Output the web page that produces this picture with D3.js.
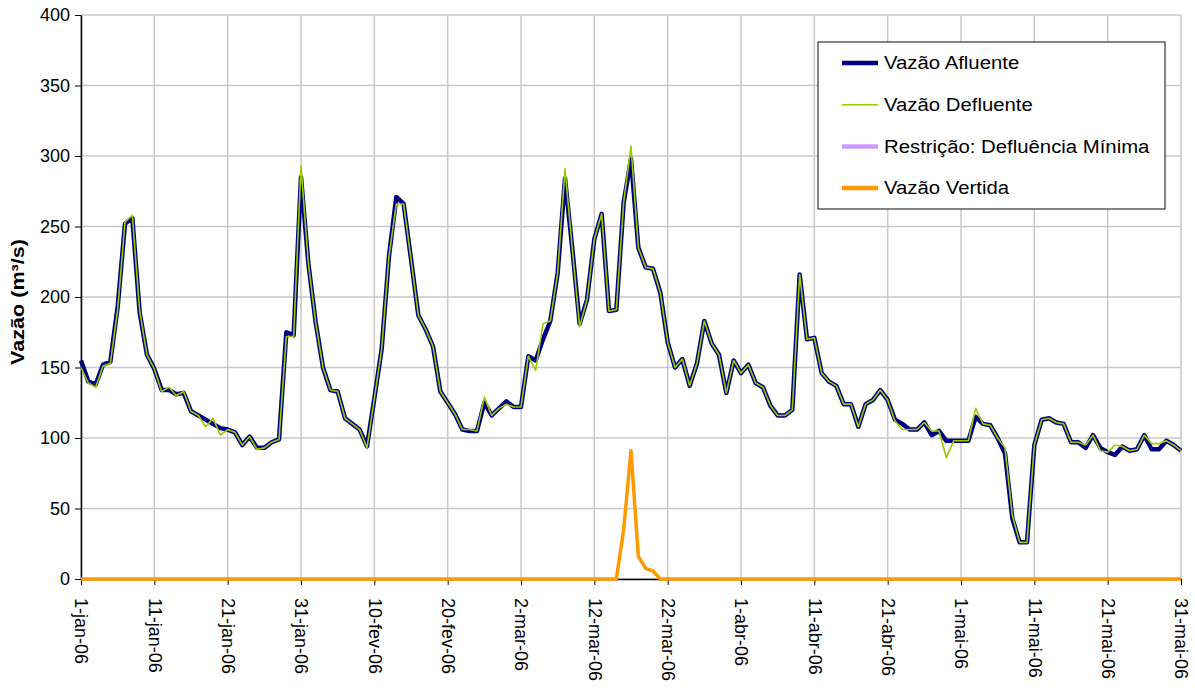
<!DOCTYPE html>
<html>
<head>
<meta charset="utf-8">
<script src="https://cdn.jsdelivr.net/npm/d3@7"></script>
<style>
  body { margin: 0; background: #fff; }
  text { font-family: "Liberation Sans", Arial, sans-serif; }
</style>
</head>
<body>
<div id="chart"></div>
<script>
var margin = {top: 15, right: 14, bottom: 109, left: 81},
    width = 1195 - margin.left - margin.right,
    height = 688 - margin.top - margin.bottom;

// daily values, 1-jan-06 .. 31-mai-06
var afluente = [
  155, 140, 138, 152, 154, 193, 252, 256, 189, 159,
  149, 134, 134, 131, 132, 119, 116, 113, 110, 107,
  106, 104, 95, 101, 93, 93, 97, 99, 175, 173,
  285, 224, 182, 150, 134, 133, 114, 110, 106, 94,
  128, 163, 229, 271, 266, 227, 187, 177, 165, 133,
  125, 117, 106, 105, 105, 125, 116, 121, 126, 122,
  122, 158, 155, 170, 183, 217, 284, 234, 181, 198,
  241, 259, 190, 191, 267, 298, 235, 221, 220, 203,
  168, 150, 156, 137, 153, 183, 167, 159, 132, 155,
  146, 152, 139, 136, 123, 116, 116, 120, 216, 170,
  171, 146, 140, 137, 124, 124, 108, 124, 127, 134,
  127, 113, 110, 106, 106, 111, 102, 105, 98, 98,
  98, 98, 115, 110, 109, 100, 89, 43, 26, 26,
  95, 113, 114, 111, 110, 97, 97, 93, 102, 93,
  90, 88, 94, 91, 92, 102, 92, 92, 98, 95,
  91
];

var defluente = [
  150, 139, 136, 151, 153, 191, 253, 258, 190, 159,
  149, 133, 136, 130, 133, 119, 116, 108, 114, 102,
  106, 104, 95, 101, 92, 93, 97, 99, 172, 172,
  293, 224, 182, 150, 134, 133, 114, 110, 106, 93,
  128, 163, 229, 266, 266, 227, 187, 177, 165, 133,
  125, 117, 106, 106, 105, 129, 116, 121, 124, 122,
  122, 158, 148, 181, 183, 217, 291, 234, 179, 198,
  241, 259, 190, 191, 267, 307, 235, 221, 220, 203,
  168, 150, 156, 137, 153, 183, 167, 159, 132, 155,
  146, 152, 139, 136, 123, 116, 116, 120, 216, 170,
  171, 146, 140, 137, 124, 124, 108, 124, 127, 134,
  127, 112, 106, 106, 106, 111, 105, 105, 86, 98,
  98, 98, 121, 110, 109, 100, 93, 45, 26, 26,
  95, 113, 114, 111, 110, 97, 97, 95, 102, 91,
  90, 95, 94, 91, 92, 102, 96, 96, 98, 95,
  91
];

// restriction series has no values plotted in the period
var minima = [];

var vertida = d3.range(151).map(function(){ return 0; });
var vertidaPico = [[74, 35], [75, 91], [76, 16], [77, 7.5], [78, 5.7]];
vertidaPico.forEach(function(p){ vertida[p[0]] = p[1]; });

var meses = ["jan", "fev", "mar", "abr", "mai"];
var yTicks = [0, 50, 100, 150, 200, 250, 300, 350, 400];

var start = new Date(Date.UTC(2006, 0, 1)),
    end = new Date(Date.UTC(2006, 4, 31));
var dias = d3.utcDay.range(start, d3.utcDay.offset(end, 1));
var xTicks = d3.utcDay.range(start, d3.utcDay.offset(end, 1), 10);

var x = d3.scaleUtc().domain([start, end]).range([0, width]);
var y = d3.scaleLinear().domain([0, 400]).range([height, 0]);

var svg = d3.select("#chart").append("svg")
    .attr("width", 1195)
    .attr("height", 688);

var g = svg.append("g")
    .attr("transform", "translate(" + margin.left + "," + margin.top + ")");

// grid
g.append("g").selectAll("line").data(yTicks).enter().append("line")
    .attr("x1", 0).attr("x2", width)
    .attr("y1", function(d){ return y(d); }).attr("y2", function(d){ return y(d); })
    .attr("stroke", "#c8c8c8").attr("stroke-width", 1.5);
g.append("g").selectAll("line").data(xTicks).enter().append("line")
    .attr("x1", function(d){ return x(d); }).attr("x2", function(d){ return x(d); })
    .attr("y1", 0).attr("y2", height)
    .attr("stroke", "#c8c8c8").attr("stroke-width", 1.5);

// axes
var fmt = function(d){ return d.getUTCDate() + "-" + meses[d.getUTCMonth()] + "-06"; };

var xAxis = g.append("g")
    .attr("transform", "translate(0," + height + ")")
    .call(d3.axisBottom(x).tickValues(xTicks).tickFormat(fmt).tickSize(6).tickSizeOuter(0));
xAxis.select(".domain").attr("stroke", "#000").attr("stroke-width", 1.5);
xAxis.selectAll(".tick line").attr("stroke", "#000");
xAxis.selectAll("text")
    .attr("font-size", 18)
    .attr("fill", "#000")
    .attr("transform", "rotate(90)")
    .attr("x", 19).attr("y", 0).attr("dy", "0.35em")
    .style("text-anchor", "start");

var yAxis = g.append("g")
    .call(d3.axisLeft(y).tickValues(yTicks).tickSize(6).tickSizeOuter(0));
yAxis.select(".domain").attr("stroke", "#000").attr("stroke-width", 1.5);
yAxis.selectAll(".tick line").attr("stroke", "#000");
yAxis.selectAll("text").attr("font-size", 18).attr("fill", "#000").attr("x", -11);

svg.append("text")
    .attr("transform", "translate(24,302) rotate(-90) scale(1.2,1)")
    .attr("text-anchor", "middle")
    .attr("font-size", 18)
    .attr("font-weight", "bold")
    .text("Vazão (m³/s)");

// series
var line = d3.line()
    .x(function(d, i){ return x(dias[i]); })
    .y(function(d){ return y(d); });

var series = [
  {nome: "Vazão Afluente", valores: afluente, cor: "#000080", w: 4.5},
  {nome: "Vazão Defluente", valores: defluente, cor: "#99cc00", w: 1.6},
  {nome: "Restrição: Defluência Mínima", valores: minima, cor: "#cc99ff", w: 4},
  {nome: "Vazão Vertida", valores: vertida, cor: "#ff9900", w: 3.5}
];

series.forEach(function(s){
  if (!s.valores.length) return;
  g.append("path")
    .datum(s.valores)
    .attr("fill", "none")
    .attr("stroke", s.cor)
    .attr("stroke-width", s.w)
    .attr("stroke-linejoin", "round")
    .attr("d", line);
});

// legend
var lg = svg.append("g").attr("transform", "translate(818,42)");
lg.append("rect")
    .attr("width", 347).attr("height", 167)
    .attr("fill", "#fff").attr("stroke", "#333").attr("stroke-width", 1.2);
series.forEach(function(s, i){
  var yy = 21 + i * 41.7;
  lg.append("line")
    .attr("x1", 24).attr("x2", 60).attr("y1", yy).attr("y2", yy)
    .attr("stroke", s.cor).attr("stroke-width", i == 1 ? 1.6 : 4.5);
  lg.append("text")
    .attr("transform", "translate(66," + yy + ") scale(1.13,1)")
    .attr("dy", "0.35em")
    .attr("font-size", 18)
    .text(s.nome);
});
</script>
</body>
</html>
